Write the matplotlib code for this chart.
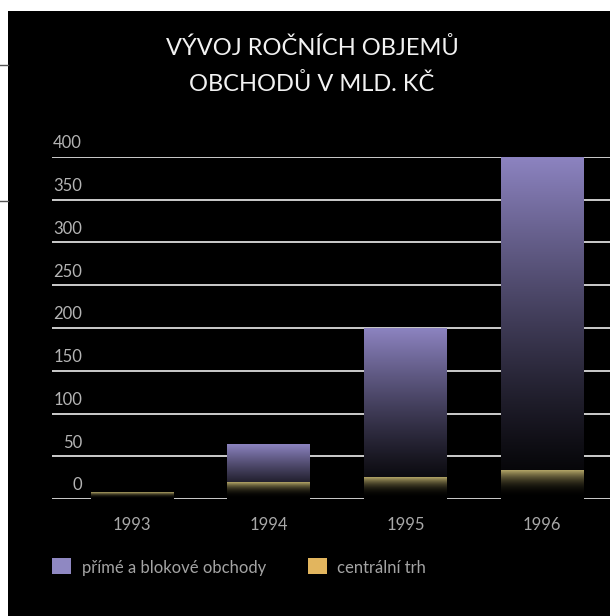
import numpy as np
import matplotlib
matplotlib.use('Agg')
import matplotlib.pyplot as plt
from matplotlib.patches import Rectangle
from matplotlib.lines import Line2D

# Data (mld. Kč)
years = ['1993', '1994', '1995', '1996']
prime_blokove = [6, 64, 199, 399]
centralni_trh = [8, 19, 25, 33]
y_ticks = [0, 50, 100, 150, 200, 250, 300, 350, 400]
title_lines = ['VÝVOJ ROČNÍCH OBJEMŮ', 'OBCHODŮ V MLD. KČ']

purple = np.array([140, 131, 192]) / 255
yellow = np.array([180, 166, 104]) / 255

plt.rcParams['font.family'] = ['Lato', 'DejaVu Sans']

W, H = 610, 616
fig = plt.figure(figsize=(W / 100, H / 100), dpi=100, facecolor='white')

# black panel (scanned page)
fig.patches.append(Rectangle((8 / W, 0), 1, (H - 11) / H, transform=fig.transFigure,
                             facecolor='black', edgecolor='none', zorder=-10))
for yy in [65, 201]:
    fig.add_artist(Line2D([0, 8 / W], [1 - yy / H, 1 - yy / H], transform=fig.transFigure,
                          color='#555555', lw=1, zorder=-5))

# axes: 0-line at y=499px, 400-line at y=157px, from x=52px to right edge
ax = fig.add_axes([52 / W, (H - 499) / H, (W - 52) / W, (499 - 157) / H])
ax.set_zorder(5)
ax.set_facecolor('none')
for s in ax.spines.values():
    s.set_visible(False)

spacing = 136.7
x0 = -80 / spacing

for v in y_ticks:
    ax.axhline(v, color='#cccccc', lw=1.4, zorder=1)
    ax.text(30 / (W - 52), v + 16, str(v), transform=ax.get_yaxis_transform(),
            ha='right', va='center', fontsize=12, color='#b4b4b4', clip_on=False)

width = 83 / spacing
n = 200
t = np.linspace(0, 1, n)


def gradient_bar(x, h, color, power):
    f = t ** power
    img = (f[:, None, None] * color[None, None, :])
    ax.imshow(img, extent=[x - width / 2, x + width / 2, 0, h], origin='lower',
              aspect='auto', zorder=2, interpolation='bilinear')


xs = np.arange(len(years))
for i in xs:
    gradient_bar(i, prime_blokove[i], purple, 1.2)
    gradient_bar(i, centralni_trh[i], yellow, 2.5)

ax.set_xlim(x0, x0 + (W - 52) / spacing)
ax.set_ylim(0, 400)
ax.set_xticks(xs)
ax.set_xticklabels(years)
ax.set_yticks([])
ax.tick_params(axis='x', length=0, pad=13, labelsize=12, labelcolor='#a8a8a8')

# title
fig.text(312 / W, 1 - 48 / H, title_lines[0], ha='center', va='center',
         fontsize=17, color='#f2f2f2')
fig.text(312 / W, 1 - 84 / H, title_lines[1], ha='center', va='center',
         fontsize=17, color='#f2f2f2')

# legend
legend_items = [('přímé a blokové obchody', '#8f88c2', 52, 82),
                ('centrální trh', '#e2b55e', 308, 337)]
for label, col, sx, tx in legend_items:
    fig.patches.append(Rectangle((sx / W, 1 - 574 / H), 19 / W, 16 / H,
                                 transform=fig.transFigure, facecolor=col,
                                 edgecolor='none'))
    fig.text(tx / W, 1 - 568 / H, label, ha='left', va='center',
             fontsize=12, color='#a4a4a4')

fig.savefig('out.png', dpi=100, facecolor=fig.get_facecolor())
